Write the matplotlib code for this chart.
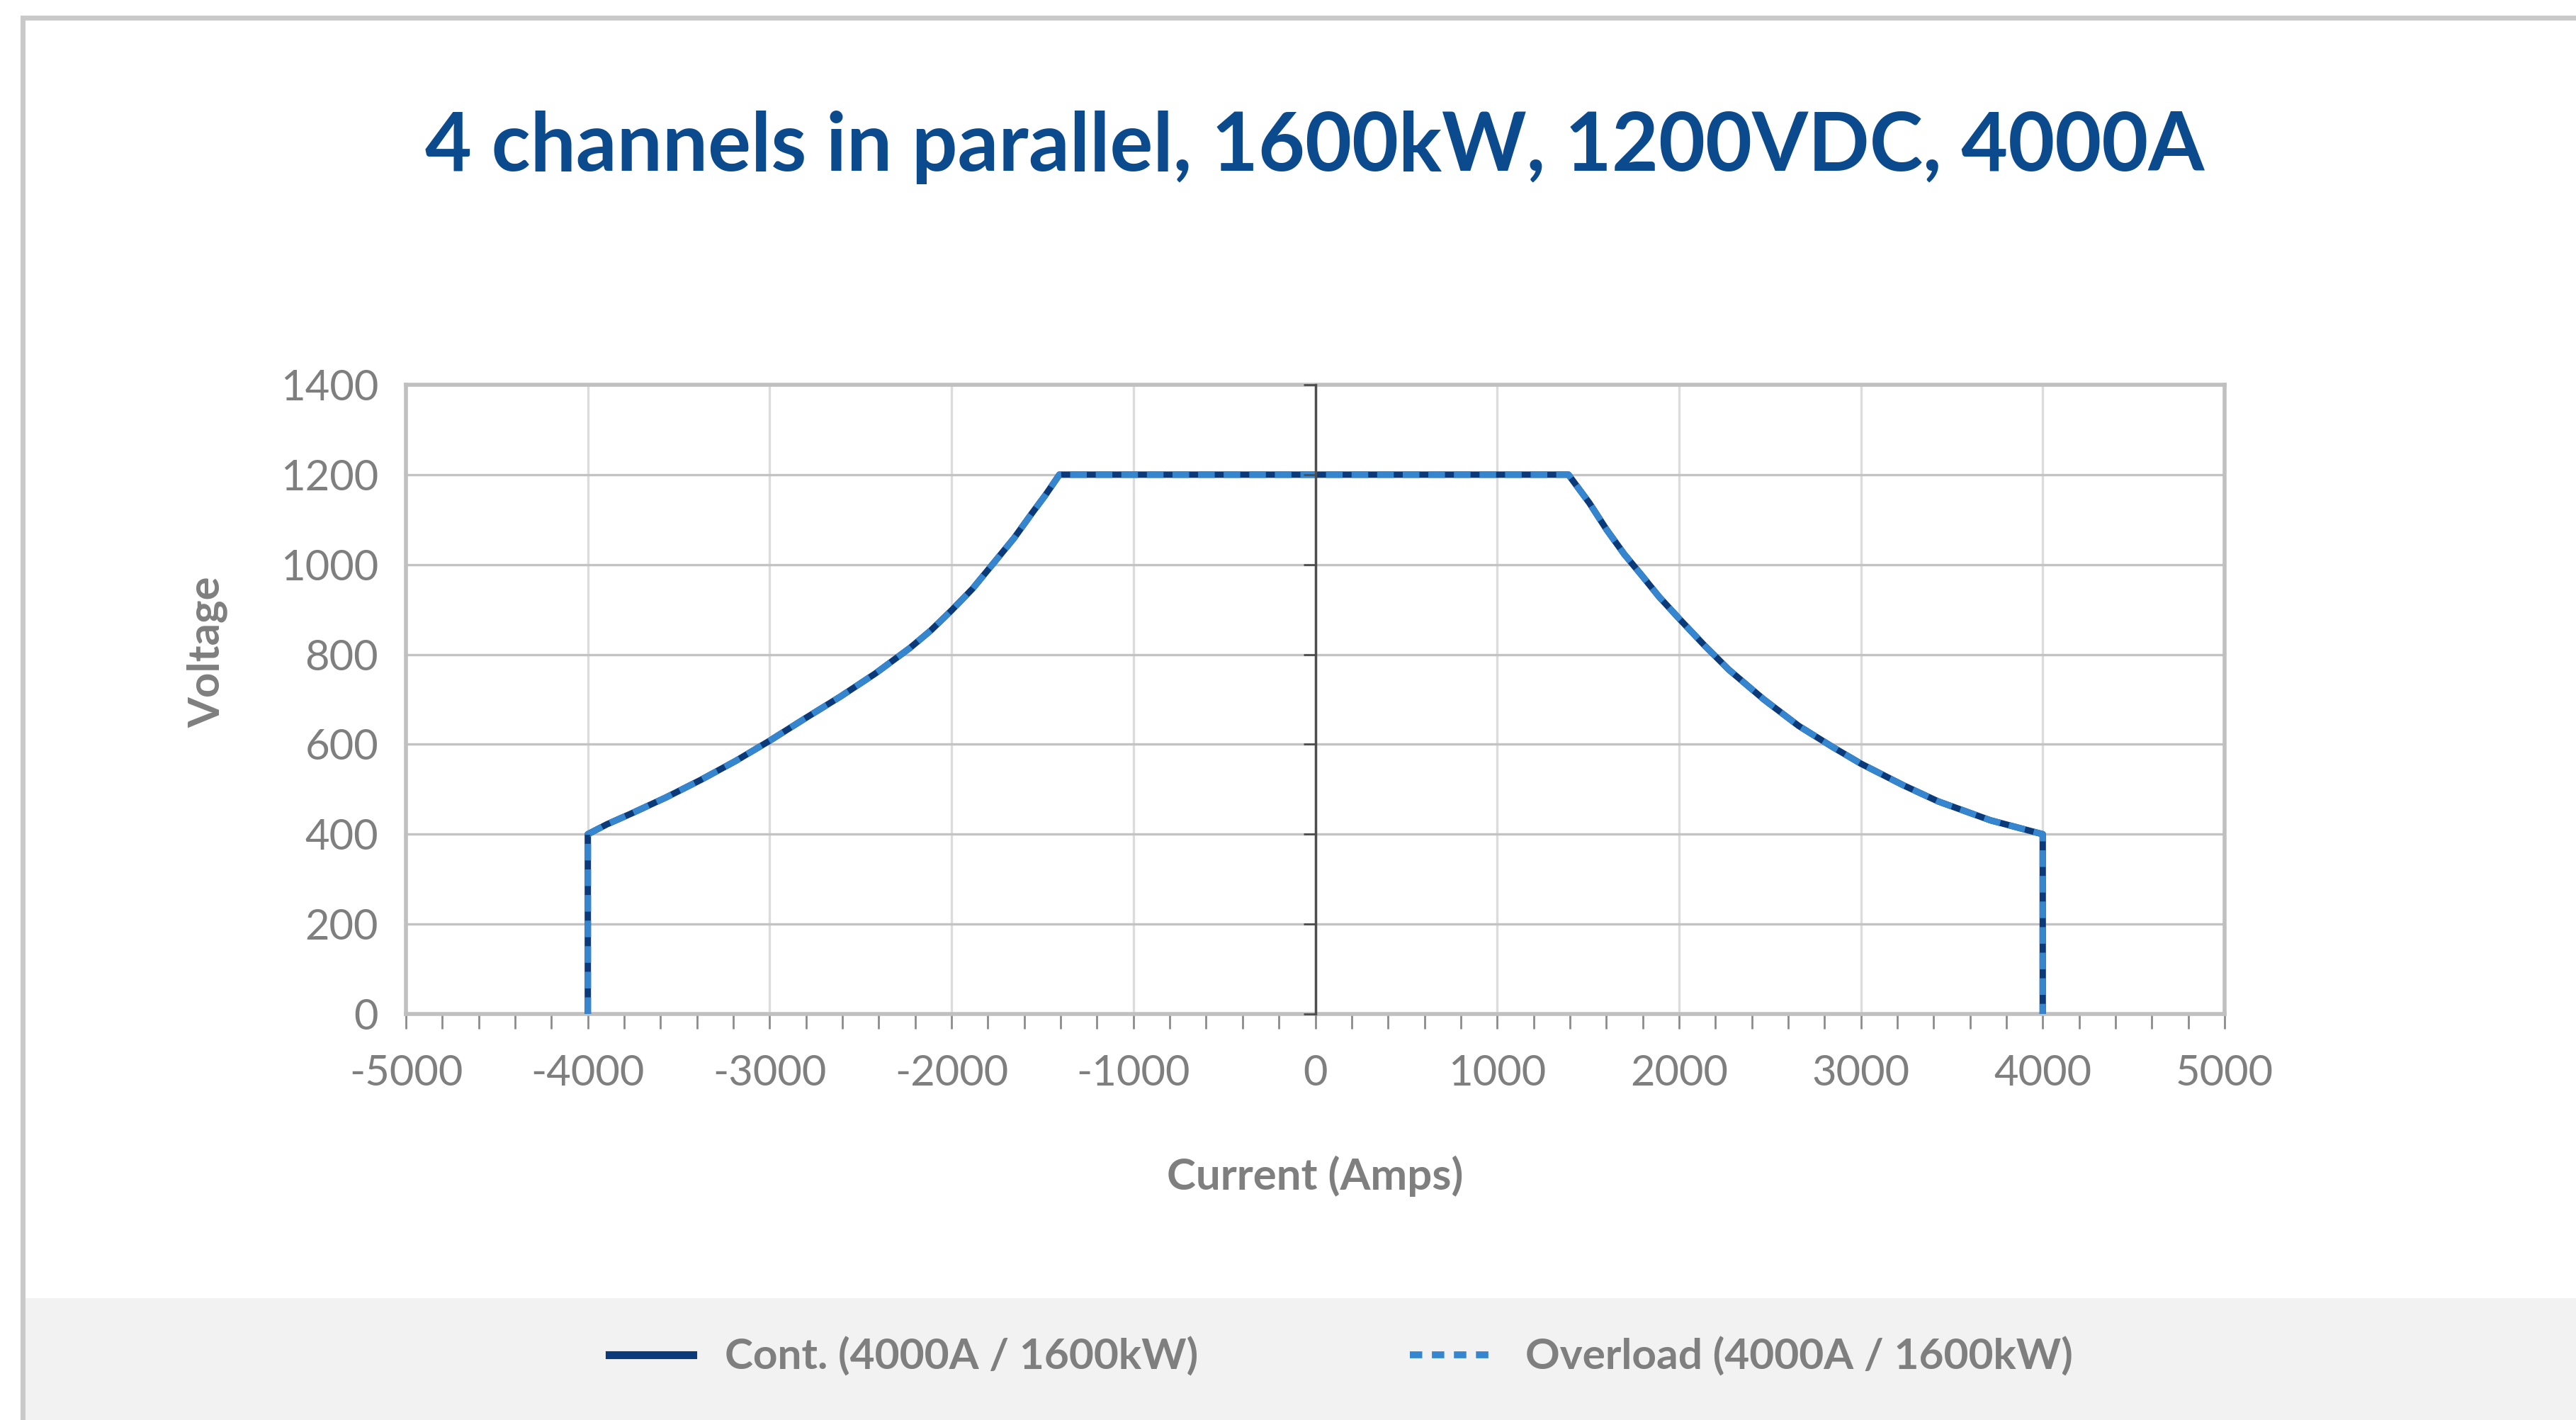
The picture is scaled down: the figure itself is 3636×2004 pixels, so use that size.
import numpy as np
import matplotlib
matplotlib.use("Agg")
import matplotlib.pyplot as plt
from matplotlib.patches import Rectangle
from matplotlib.lines import Line2D
from matplotlib.ticker import MultipleLocator

plt.rcParams['font.family'] = ['Lato', 'DejaVu Sans']
plt.rcParams['axes.unicode_minus'] = False

# values (Amps, Volts)
cur_neg = [-4000, -4000, -3895, -3761, -3569, -3378, -3187, -3000, -2804, -2612, -2421,
           -2230, -2115, -2000, -1885, -1751, -1656, -1560, -1483, -1407]
volt_neg = [0, 400, 422, 446, 482, 521, 563, 608, 658, 706, 757,
            814, 853, 898, 946, 1012, 1059, 1113, 1155, 1200]
cur_pos = [1392, 1507, 1603, 1699, 1795, 1891, 2000, 2140, 2274, 2466, 2658,
           2849, 3000, 3233, 3425, 3712, 4000, 4000]
volt_pos = [1200, 1137, 1077, 1023, 976, 928, 880, 820, 766, 700, 641,
            593, 557, 509, 473, 431, 400, 0]

cont_i = cur_neg + cur_pos
cont_v = volt_neg + volt_pos
ovl_i = cur_neg + cur_pos
ovl_v = volt_neg + volt_pos

title = "4 channels in parallel, 1600kW, 1200VDC, 4000A"
lab_cont = "Cont. (4000A / 1600kW)"
lab_ovl = "Overload (4000A / 1600kW)"
xticks = np.arange(-5000, 5001, 1000)
yticks = np.arange(0, 1401, 200)

navy = '#0a3a7a'
light = '#3686cf'
gray_txt = '#7f7f7f'
W, H = 3636, 2004

fig = plt.figure(figsize=(W/100, H/100), dpi=100)
fig.patch.set_facecolor('white')

# grey legend band + outer border
fig.patches.append(Rectangle((32/W, 0), 1, 1 - 1832/H, transform=fig.transFigure,
                             facecolor='#f2f2f2', edgecolor='none', zorder=0))
fig.patches.append(Rectangle((32/W, -0.1), 1.2, 1.1 - 25/H, transform=fig.transFigure,
                             facecolor='none', edgecolor='#c9c9c9', lw=5, zorder=1))

left, right, top, bot = 573/W, 3140/W, 1 - 543/H, 1 - 1431/H
ax = fig.add_axes([left, bot, right - left, top - bot])
ax.set_xlim(-5000, 5000)
ax.set_ylim(0, 1400)

ax.plot(cont_i, cont_v, color=navy, lw=6.5, solid_joinstyle='round', zorder=3)
ax.plot(ovl_i, ovl_v, color=light, lw=6.5, ls=(0, (2.6, 1.4)), zorder=4)

ax.set_xticks(xticks)
ax.xaxis.set_minor_locator(MultipleLocator(200))
ax.set_yticks(yticks)
ax.grid(axis='y', color='#c3c3c3', lw=2.4, zorder=1)
ax.grid(axis='x', color='#dcdcdc', lw=2.4, zorder=1)
ax.set_axisbelow(True)
for s in ax.spines.values():
    s.set_color('#c0c0c0')
    s.set_linewidth(4)
ax.tick_params(axis='y', length=0, pad=28, labelsize=43, labelcolor=gray_txt)
ax.tick_params(axis='x', which='both', direction='out', length=15, width=2,
               color='#8c8c8c', labelsize=43, labelcolor=gray_txt, pad=26)

# vertical axis crossing at 0
x0 = left + (right - left) * 0.5
ax0 = fig.add_axes([x0, bot, 0, top - bot])
ax0.set_ylim(0, 1400)
ax0.set_yticks(yticks)
ax0.set_xticks([])
for k in ['top', 'right', 'bottom']:
    ax0.spines[k].set_visible(False)
ax0.spines['left'].set_color('#4d4d4d')
ax0.spines['left'].set_linewidth(2.5)
ax0.tick_params(axis='y', direction='out', length=12, width=2, color='#4d4d4d', labelleft=False)
ax0.patch.set_visible(False)

fig.text(1856/W, 1 - 208/H, title, ha='center', va='center', fontsize=82,
         fontweight='bold', color='#0b4a8c')
fig.text(1856/W, 1 - 1660/H, "Current (Amps)", ha='center', va='center', fontsize=44.5,
         fontweight='bold', color=gray_txt)
fig.text(292/W, 1 - 920/H, "Voltage", ha='center', va='center', rotation=90, fontsize=44.5,
         fontweight='bold', color=gray_txt)

handles = [Line2D([], [], color=navy, lw=8),
           Line2D([], [], color=light, lw=7, ls=(0, (1.8, 1.4)))]
fig.legend(handles, [lab_cont, lab_ovl], loc='center', bbox_to_anchor=(1893/W, 1 - 1915/H),
           ncol=2, frameon=False, labelcolor=gray_txt, prop={'weight': 'bold', 'size': 43.5},
           handlelength=1.95, handletextpad=0.75, columnspacing=4.95)

fig.savefig('out.png', dpi=100)
